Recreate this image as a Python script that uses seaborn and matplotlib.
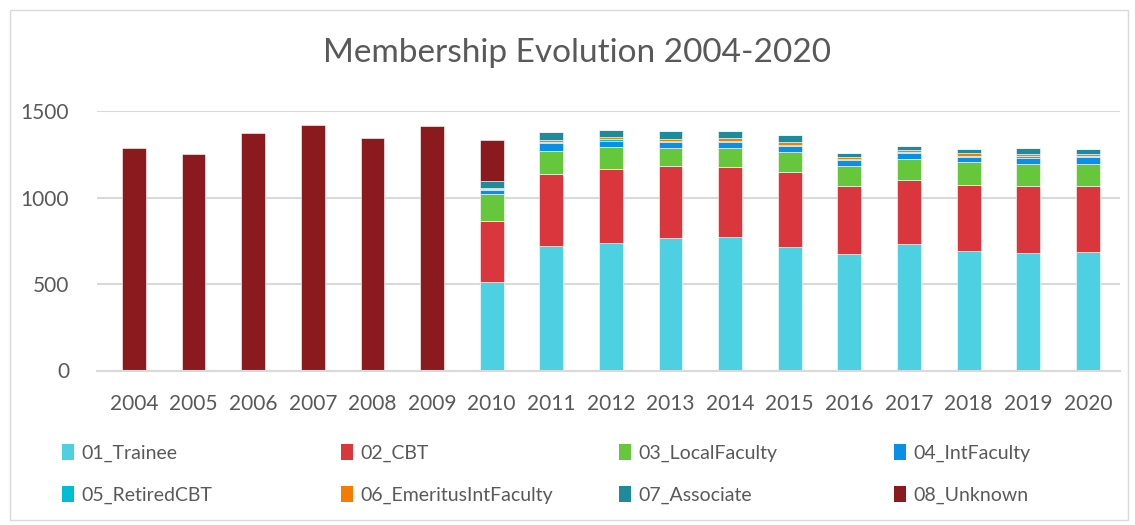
import numpy as np
import pandas as pd
import matplotlib
matplotlib.use("Agg")
import matplotlib.pyplot as plt
import seaborn as sns
from matplotlib.patches import Rectangle, Patch

years = ["2004", "2005", "2006", "2007", "2008", "2009", "2010", "2011", "2012",
         "2013", "2014", "2015", "2016", "2017", "2018", "2019", "2020"]

trainee = [0, 0, 0, 0, 0, 0, 510, 720, 735, 764, 774, 716, 671, 733, 692, 677, 685]
cbt = [0, 0, 0, 0, 0, 0, 352, 417, 427, 416, 400, 429, 393, 366, 383, 389, 379]
local_faculty = [0, 0, 0, 0, 0, 0, 156, 134, 128, 106, 114, 120, 118, 123, 128, 127, 131]
int_faculty = [0, 0, 0, 0, 0, 0, 26, 42, 39, 33, 31, 31, 35, 35, 33, 33, 37]
retired_cbt = [0, 0, 0, 0, 0, 0, 5, 6, 9, 10, 10, 10, 7, 6, 6, 12, 8]
emeritus = [0, 0, 0, 0, 0, 0, 8, 12, 10, 11, 15, 15, 12, 12, 13, 13, 10]
associate = [0, 0, 0, 0, 0, 0, 40, 50, 45, 43, 39, 39, 21, 23, 25, 37, 29]
unknown = [1284, 1251, 1373, 1419, 1342, 1411, 235, 0, 0, 0, 0, 0, 0, 0, 0, 0, 0]

series_names = ["01_Trainee", "02_CBT", "03_LocalFaculty", "04_IntFaculty",
                "05_RetiredCBT", "06_EmeritusIntFaculty", "07_Associate", "08_Unknown"]
series_values = [trainee, cbt, local_faculty, int_faculty, retired_cbt, emeritus, associate, unknown]
colors = ["#4DD0E1", "#D9363E", "#66C73D", "#0A8FE6", "#00BCD4", "#F57C00", "#1E8B9A", "#8B1A1E"]

sns.set_theme(style="white")
plt.rcParams["font.family"] = ["Lato", "DejaVu Sans"]
text_color = "#595959"

fig = plt.figure(figsize=(11.35, 5.25), dpi=100)
fig.patches.append(Rectangle((10 / 1135, 5 / 525), 1118 / 1135, 510 / 525, transform=fig.transFigure,
                             fill=False, edgecolor="#D9D9D9", linewidth=1.0))
ax = fig.add_axes([97 / 1135, 154.5 / 525, (1120 - 97) / 1135, 259.5 / 525])

bottom = np.zeros(len(years))
for name, vals, col in zip(series_names, series_values, colors):
    df = pd.DataFrame({"year": years, "value": vals})
    sns.barplot(data=df, x="year", y="value", order=years, color=col, bottom=bottom,
                width=0.4, ax=ax, edgecolor="white", linewidth=0.4, saturation=1,
                errorbar=None)
    bottom = bottom + np.array(vals, dtype=float)

ax.set_ylim(0, 1500)
ax.set_xlim(-0.62, 16.54)
ax.set_yticks([0, 500, 1000, 1500])
ax.yaxis.grid(True, color="#D9D9D9", linewidth=1.5)
ax.set_axisbelow(True)
for s in ["top", "right", "left"]:
    ax.spines[s].set_visible(False)
ax.spines["bottom"].set_color("#D9D9D9")
ax.spines["bottom"].set_linewidth(1.5)
ax.set_xlabel("")
ax.set_ylabel("")
ax.tick_params(axis="both", length=0, labelsize=15, colors=text_color)
ax.tick_params(axis="y", pad=20)
ax.tick_params(axis="x", pad=17)

fig.text(577 / 1135, 1 - 53 / 525, "Membership Evolution 2004-2020", ha="center", va="center",
         fontsize=24, color=text_color)

col_x = [62, 341, 619, 894]
for c in range(4):
    idx = [c, c + 4]
    handles = [Patch(facecolor=colors[i], edgecolor="none") for i in idx]
    labels = [series_names[i] for i in idx]
    fig.legend(handles, labels, loc="center left",
               bbox_to_anchor=(col_x[c] / 1135, 1 - 474 / 525),
               ncol=1, frameon=False, fontsize=14, labelcolor=text_color,
               handlelength=0.6, handleheight=0.9, handletextpad=0.4,
               labelspacing=1.2, borderpad=0, borderaxespad=0)

fig.savefig("out.png", dpi=100, facecolor="white")
